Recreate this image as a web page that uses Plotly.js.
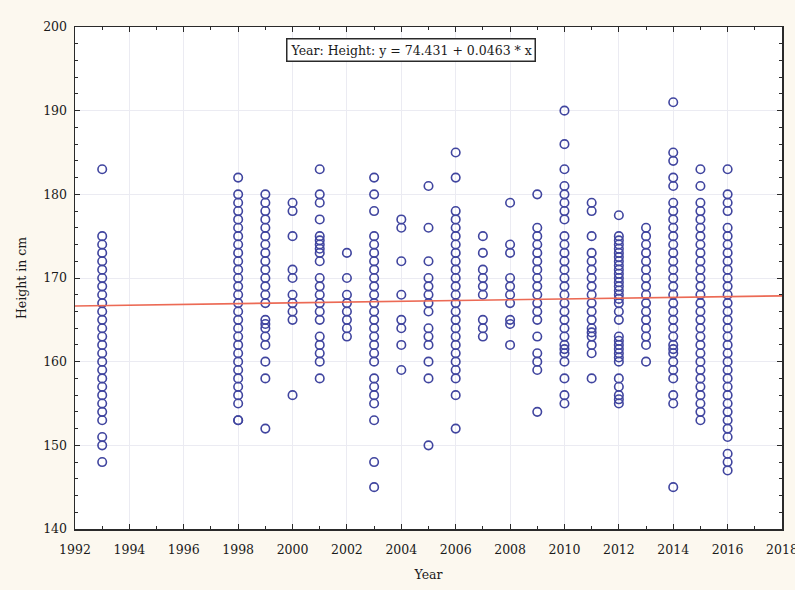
<!DOCTYPE html>
<html>
<head>
<meta charset="utf-8">
<script src="https://cdn.plot.ly/plotly-3.0.1.min.js"></script>
<style>html,body{margin:0;padding:0;background:#fcf8ef;}#chart{width:795px;height:590px;}</style>
</head>
<body>
<div id="chart"></div>
<script>
// Heights (cm) observed per year
const years = [1993, 1998, 1999, 2000, 2001, 2002, 2003, 2004, 2005, 2006, 2007, 2008, 2009, 2010, 2011, 2012, 2013, 2014, 2015, 2016];
const h1993 = [183,175,174,173,172,171,170,169,168,167,166,165,164,163,162,161,160,159,158,157,156,155,154,153,151,150,148];
const h1998 = [182,180,179,178,177,176,175,174,173,172,171,170,169,168,167,166,165,164,163,162,161,160,159,158,157,156,155,153,153];
const h1999 = [180,179,178,177,176,175,174,173,172,171,170,169,168,167,165,164.5,164,163,162,160,158,152];
const h2000 = [179,178,175,171,170,168,167,166,165,156];
const h2001 = [183,180,179,177,175,174.5,174,173.5,173,172,170,169,168,167,166,165,163,162,161,160,158];
const h2002 = [173,170,168,167,166,165,164,163];
const h2003 = [182,180,178,175,174,173,172,171,170,169,168,167,166,165,164,163,162,161,160,158,157,156,155,153,148,145];
const h2004 = [177,176,172,168,165,164,162,159];
const h2005 = [181,176,172,170,169,168,167,166,164,163,162,160,158,150];
const h2006 = [185,182,178,177,176,175,174,173,172,171,170,169,168,167,166,165,164,163,162,161,160,159,158,156,152];
const h2007 = [175,173,171,170,169,168,165,164,163];
const h2008 = [179,174,173,170,169,168,167,165,164.5,162];
const h2009 = [180,176,175,174,173,172,171,170,169,168,167,166,165,163,161,160,159,154];
const h2010 = [190,186,183,181,180,179,178,177,175,174,173,172,171,170,169,168,167,166,165,164,163,162,161.5,161,160,158,156,155];
const h2011 = [179,178,175,173,172,171,170,169,168,167,166,165,164,163.5,163,162,161,158];
const h2012 = [177.5,175,174.5,174,173.5,173,172.5,172,171.5,171,170.5,170,169.5,169,168.5,168,167.5,167,166,165,163,162.5,162,161.5,161,160.5,160,158,157,156,155.5,155];
const h2013 = [176,175,174,173,172,171,170,169,168,167,166,165,164,163,162,160];
const h2014 = [191,185,184,182,181,179,178,177,176,175,174,173,172,171,170,169,168,167,166,165,164,163,162,161.5,161,160,159,158,156,155,145];
const h2015 = [183,181,179,178,177,176,175,174,173,172,171,170,169,168,167,166,165,164,163,162,161,160,159,158,157,156,155,154,153];
const h2016 = [183,180,179,178,176,175,174,173,172,171,170,169,168,167,166,165,164,163,162,161,160,159,158,157,156,155,154,153,152,151,149,148,147];
const heightsByYear = [h1993,h1998,h1999,h2000,h2001,h2002,h2003,h2004,h2005,h2006,h2007,h2008,h2009,h2010,h2011,h2012,h2013,h2014,h2015,h2016];

// Fitted regression: Height = intercept + slope * Year
const intercept = 74.431;
const slope = 0.0463;
const fitX = [1992, 2018];
const fitY = fitX.map(x => intercept + slope * x);

const xTicks = [1992,1994,1996,1998,2000,2002,2004,2006,2008,2010,2012,2014,2016,2018];
const yTicks = [140,150,160,170,180,190,200];

const px = [], py = [];
years.forEach((yr, i) => heightsByYear[i].forEach(h => { px.push(yr); py.push(h); }));

const font = {family: '"DejaVu Serif", "Liberation Serif", serif', color: '#1a1a1a', size: 12.5};

const traces = [
  {x: px, y: py, type: 'scatter', mode: 'markers',
   marker: {symbol: 'circle-open', size: 8.5, color: '#40459f', line: {width: 1.6, color: '#40459f'}},
   hoverinfo: 'x+y', showlegend: false},
  {x: fitX, y: fitY, type: 'scatter', mode: 'lines',
   line: {color: '#ec6a55', width: 1.6}, showlegend: false}
];

const axisCommon = {
  showline: true, linecolor: '#2a2a2a', linewidth: 1.5, mirror: 'ticks',
  ticks: 'inside', ticklen: 5, tickcolor: '#2a2a2a', tickwidth: 1,
  showgrid: true, gridcolor: '#ebebf2', gridwidth: 1, zeroline: false,
  tickfont: font, ticklabeloverflow: 'allow'
};

const layout = {
  width: 795, height: 590,
  paper_bgcolor: '#fcf8ef', plot_bgcolor: '#ffffff',
  margin: {l: 75, r: 13, t: 27, b: 61},
  font: font,
  xaxis: Object.assign({}, axisCommon, {
    range: [1992, 2018], tickvals: xTicks, ticktext: xTicks.map(String),
    ticklabelstandoff: 8,
    minor: {dtick: 1, tick0: 1992, ticks: 'inside', ticklen: 3, tickcolor: '#2a2a2a', showgrid: false},
    title: {text: 'Year', font: font, standoff: 14}
  }),
  yaxis: Object.assign({}, axisCommon, {
    range: [140, 200], tickvals: yTicks, ticktext: yTicks.map(String),
    ticklabelstandoff: 4,
    minor: {dtick: 2, tick0: 140, ticks: 'inside', ticklen: 3, tickcolor: '#2a2a2a', showgrid: false},
    title: {text: 'Height in cm', font: font, standoff: 14}
  }),
  annotations: [{
    xref: 'paper', yref: 'paper', x: 0.475, y: 0.955, xanchor: 'center', yanchor: 'middle',
    text: 'Year: Height: y = 74.431 + 0.0463 * x', showarrow: false,
    font: font, bgcolor: '#ffffff', bordercolor: '#2a2a2a', borderwidth: 1.5, borderpad: 3
  }]
};

Plotly.newPlot('chart', traces, layout, {displayModeBar: false, staticPlot: true});
</script>
</body>
</html>
